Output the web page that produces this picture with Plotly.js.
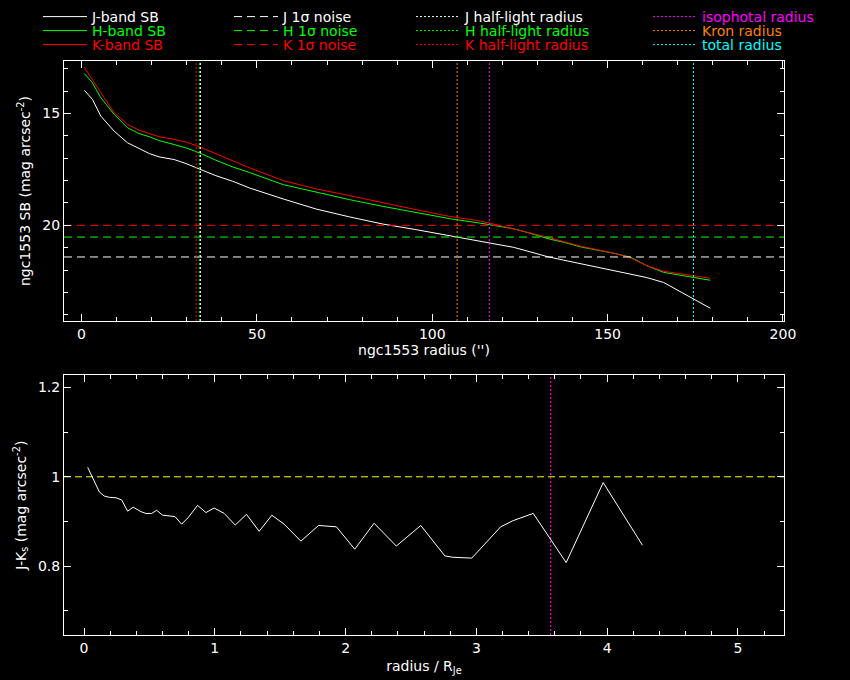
<!DOCTYPE html>
<html>
<head>
<meta charset="utf-8">
<script src="https://cdn.plot.ly/plotly-3.0.1.min.js"></script>
<style>body{margin:0;background:#000}</style>
</head>
<body>
<div id="chart" style="width:850px;height:680px"></div>
<script>
// surface brightness profiles (radius in arcsec, mag arcsec^-2)
let radius = [0.8, 3.1, 5.5, 9.3, 13.1, 16.4, 19.3, 22.1, 26.4, 29.8, 33.6, 38.3, 43.1, 47.9, 57.5, 66.9, 76.4, 85.9, 95.4, 105,
  113.7, 119, 123.2, 127.9, 132.7, 137.4, 142.1, 146.9, 151.7, 156.5, 161.2, 166, 170.7, 175.5, 179.3];
let sbJ = [13.97, 14.37, 15.12, 15.79, 16.31, 16.58, 16.79, 16.94, 17.06, 17.24, 17.48, 17.78, 18.03, 18.33, 18.82, 19.27, 19.62, 19.94, 20.19, 20.46,
  20.72, 20.86, 20.98, 21.18, 21.39, 21.55, 21.71, 21.86, 22.01, 22.17, 22.33, 22.55, 22.95, 23.37, 23.70];
let sbH = [13.22, 13.63, 14.30, 15.04, 15.64, 15.90, 16.04, 16.21, 16.39, 16.54, 16.76, 17.09, 17.39, 17.64, 18.18, 18.52, 18.85, 19.15, 19.42, 19.70,
  19.90, 20.05, 20.15, 20.35, 20.58, 20.75, 20.95, 21.10, 21.24, 21.42, 21.80, 22.10, 22.22, 22.33, 22.45];
let sbK = [12.94, 13.51, 14.07, 14.97, 15.49, 15.75, 15.90, 16.04, 16.16, 16.28, 16.49, 16.80, 17.13, 17.43, 18.00, 18.37, 18.67, 19.00, 19.30, 19.60,
  19.80, 20.00, 20.15, 20.33, 20.52, 20.72, 20.92, 21.08, 21.24, 21.45, 21.80, 22.05, 22.17, 22.27, 22.36];

// 1 sigma noise levels (J, H, K)
let noise = [21.41, 20.52, 20.00];
// half-light radii (J, H, K)
let halfLight = [33.9, 33.6, 32.7];
let isoRadius = 116.3;
let kronRadius = 107.1;
let totalRadius = 174.5;
let rJe = 32.6;

// J-Ks colour profile vs radius / R_Je
let colorR = [0.028, 0.071, 0.117, 0.154, 0.194, 0.245, 0.288, 0.333, 0.376, 0.435, 0.473, 0.517, 0.555, 0.601, 0.644, 0.695, 0.746, 0.797,
  0.868, 0.932, 0.995, 1.072, 1.156, 1.242, 1.339, 1.436, 1.530, 1.658, 1.793, 1.930, 2.070, 2.218, 2.388, 2.575, 2.759, 2.817, 2.965,
  3.186, 3.282, 3.435, 3.687, 3.970, 4.270];
let colorJK = [1.021, 0.993, 0.966, 0.957, 0.954, 0.953, 0.948, 0.923, 0.932, 0.922, 0.918, 0.918, 0.925, 0.914, 0.913, 0.911, 0.894, 0.909,
  0.936, 0.920, 0.930, 0.918, 0.892, 0.916, 0.878, 0.914, 0.894, 0.856, 0.891, 0.888, 0.838, 0.896, 0.845, 0.891, 0.823, 0.820, 0.818,
  0.888, 0.902, 0.918, 0.808, 0.987, 0.847];
let colorRef = 1.0;

let bands = ['J', 'H', 'K'];
let bandColors = ['#ffffff', '#00ff00', '#ff0000'];
let sbData = [sbJ, sbH, sbK];

let xRangeTop = [-5, 200.3];
let yRangeTop = [24.27, 12.66];
let xRangeBot = [-5 / rJe, totalRadius / rJe];
let yRangeBot = [0.646, 1.227];

let FONT = 'DejaVu Sans, sans-serif';
let DOT = '2px,2px';
let data = [];

// 列1: SB profiles
for (let i = 0; i < 3; i++) {
  data.push({
    type: 'scatter', mode: 'lines', name: bands[i] + '-band SB',
    x: radius, y: sbData[i], line: { color: bandColors[i], width: 1 },
    legend: 'legend' + (i === 0 ? '' : i + 1)
  });
}
// 列2: noise
for (let i = 0; i < 3; i++) {
  data.push({
    type: 'scatter', mode: 'lines', name: bands[i] + ' 1σ noise',
    x: xRangeTop, y: [noise[i], noise[i]], line: { color: bandColors[i], width: 1, dash: '8px,5px' },
    legend: 'legend' + (i + 4)
  });
}
// 列3: half-light radii
for (let i = 0; i < 3; i++) {
  data.push({
    type: 'scatter', mode: 'lines', name: bands[i] + ' half-light radius',
    x: [halfLight[i], halfLight[i]], y: yRangeTop, line: { color: bandColors[i], width: 1, dash: DOT },
    legend: 'legend' + (i + 7)
  });
}
// 列4: other radii
let others = [['isophotal radius', isoRadius, '#ff00ff'], ['Kron radius', kronRadius, '#ff8000'], ['total radius', totalRadius, '#00ffff']];
others.forEach(function (o, i) {
  data.push({
    type: 'scatter', mode: 'lines', name: o[0],
    x: [o[1], o[1]], y: yRangeTop, line: { color: o[2], width: 1, dash: DOT },
    legend: 'legend' + (i + 10)
  });
});

// bottom panel
data.push({
  type: 'scatter', mode: 'lines', x: xRangeBot, y: [colorRef, colorRef],
  line: { color: '#ffff00', width: 1, dash: '7px,4px' }, showlegend: false, xaxis: 'x2', yaxis: 'y2'
});
data.push({
  type: 'scatter', mode: 'lines', x: [isoRadius / rJe, isoRadius / rJe], y: yRangeBot,
  line: { color: '#ff00ff', width: 1, dash: DOT }, showlegend: false, xaxis: 'x2', yaxis: 'y2'
});
data.push({
  type: 'scatter', mode: 'lines', x: colorR, y: colorJK,
  line: { color: '#ffffff', width: 1 }, showlegend: false, xaxis: 'x2', yaxis: 'y2'
});

function axis(extra) {
  let a = {
    showgrid: false, zeroline: false, showline: true, linecolor: '#fff', linewidth: 1,
    mirror: 'allticks', ticks: 'inside', ticklen: 7, tickcolor: '#fff', tickwidth: 1,
    tickfont: { family: FONT, size: 14, color: '#fff' }
  };
  return Object.assign(a, extra);
}

let layout = {
  width: 850, height: 680,
  paper_bgcolor: '#000', plot_bgcolor: '#000',
  margin: { l: 64, r: 66, t: 61, b: 45, autoexpand: false },
  font: { family: FONT, color: '#fff', size: 14 },
  xaxis: axis({
    range: xRangeTop, dtick: 50, tick0: 0, anchor: 'y',
    minor: { dtick: 10, ticks: 'inside', ticklen: 4, tickcolor: '#fff' },
    title: { text: "ngc1553 radius ('')", font: { family: FONT, size: 14, color: '#fff' }, standoff: 4 }
  }),
  yaxis: axis({
    range: yRangeTop, dtick: 5, tick0: 0, domain: [0.547, 1], anchor: 'x',
    minor: { dtick: 1, ticks: 'inside', ticklen: 4, tickcolor: '#fff' },
    title: { text: 'ngc1553 SB (mag arcsec<sup>-2</sup>)', font: { family: FONT, size: 14, color: '#fff' }, standoff: 8 }
  }),
  xaxis2: axis({
    range: xRangeBot, dtick: 1, tick0: 0, anchor: 'y2',
    minor: { dtick: 0.2, ticks: 'inside', ticklen: 4, tickcolor: '#fff' },
    title: { text: 'radius / R<sub>Je</sub>', font: { family: FONT, size: 14, color: '#fff' }, standoff: 6 }
  }),
  yaxis2: axis({
    range: yRangeBot, dtick: 0.2, tick0: 0, domain: [0, 0.4524], anchor: 'x2',
    minor: { dtick: 0.1, ticks: 'inside', ticklen: 4, tickcolor: '#fff' },
    title: { text: 'J-K<sub>s</sub> (mag arcsec<sup>-2</sup>)', font: { family: FONT, size: 14, color: '#fff' }, standoff: 8 }
  })
};

// one legend per entry so the 4x3 grid sits where it should
let legColors = [bandColors, bandColors, bandColors, ['#ff00ff', '#ff8000', '#00ffff']];
let colX = [38, 229, 411, 648];
let rowY = [17, 31, 45];
for (let c = 0; c < 4; c++) {
  for (let r = 0; r < 3; r++) {
    let n = c * 3 + r + 1;
    layout['legend' + (n === 1 ? '' : n)] = {
      x: (colX[c] - 64) / 720, y: (635 - rowY[r]) / 574, xref: 'paper', yref: 'paper',
      xanchor: 'left', yanchor: 'middle', bgcolor: 'rgba(0,0,0,0)', borderwidth: 0,
      itemwidth: 44, font: { family: FONT, size: 14, color: legColors[c][r] }
    };
  }
}

Plotly.newPlot('chart', data, layout, { displayModeBar: false });
</script>
</body>
</html>
